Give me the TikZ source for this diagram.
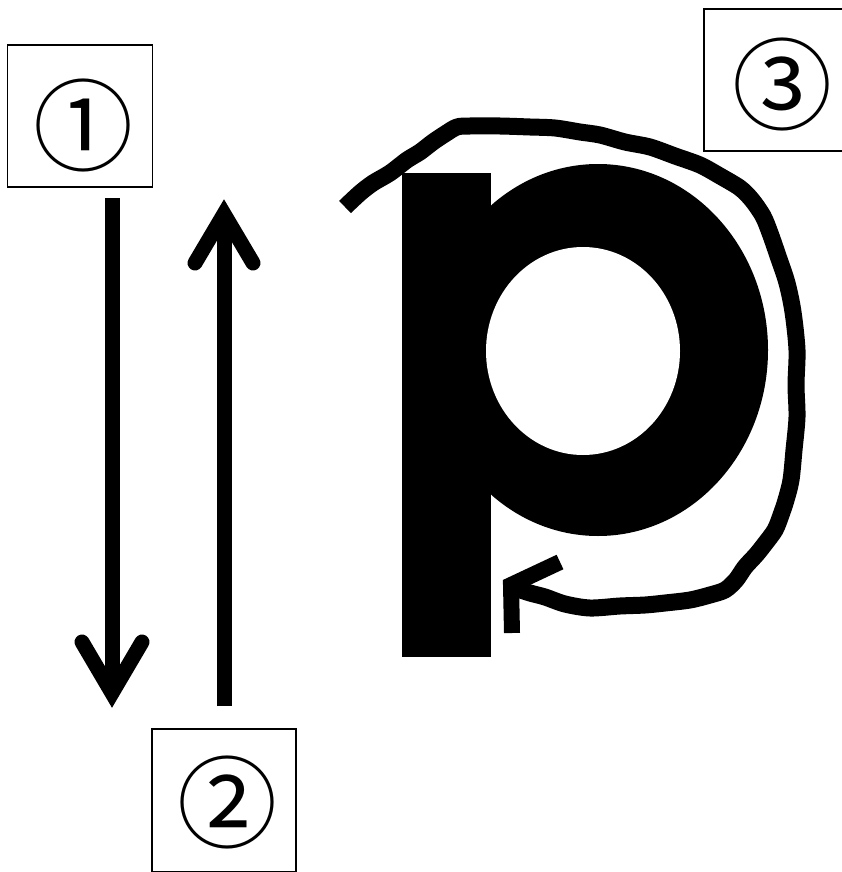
\documentclass[tikz,border=0pt]{standalone}
\usepackage{fontspec}
\newfontfamily\numfont{Noto Sans CJK JP}
\begin{document}
\begin{tikzpicture}[x=1pt,y=-1pt,
  num/.style={font=\numfont\fontsize{100}{100}\selectfont,inner sep=0pt},
  strokeline/.style={line width=15pt,line cap=butt},
  headline/.style={line width=15pt,line cap=round,line join=miter,miter limit=10}]
\useasboundingbox (0,0) rectangle (841,872);
% boxes
\node[draw,line width=1.5pt,minimum width=145pt,minimum height=142pt,inner sep=0pt] (b1) at (80,116) {};
\node[draw,line width=1.5pt,minimum width=144pt,minimum height=143pt,inner sep=0pt] (b2) at (224,800.5) {};
\node[draw,line width=1.5pt,minimum width=160pt,minimum height=142pt,inner sep=0pt] (b3) at (784,80) {};
\node[num] (n1) at (83,125) {①};
\node[num] (n2) at (227,802) {②};
\node[num] (n3) at (782,84) {③};
% letter p
\fill (402,173) rectangle (491,657);
\begin{scope}
\clip (491,0) rectangle (841,872);
\fill (598,350) ellipse [x radius=170, y radius=186];
\end{scope}
\fill[white] (583,351) ellipse [x radius=97, y radius=104];
% stroke 1
\coordinate (s1a) at (112,198);
\coordinate (s1b) at (112,693);
\draw[strokeline] (s1a) -- (s1b);
\draw[headline] (82,642) -- (s1b) -- (142,642);
% stroke 2
\coordinate (s2a) at (224,706);
\coordinate (s2b) at (224,214);
\draw[strokeline] (s2a) -- (s2b);
\draw[headline] (195,263) -- (s2b) -- (253,263);
% stroke 3
\draw[line width=17pt,line cap=butt,line join=round] plot[smooth,tension=0.5] coordinates {
(345,207) (360,193) (373,183) (390,173) (407,160) (420,152) (433,142) (445,134) (457,127)
(470,126) (500,126) (530,127) (555,128) (580,132) (600,135) (625,142) (650,147) (675,156)
(700,165) (720,176) (740,188) (752,200) (763,216) (770,233) (778,256) (787,283) (793,312)
(797,350) (796,385) (797,417) (794,450) (791,480) (786,500) (781,515) (775,530) (764,545)
(756,555) (745,567) (736,580) (725,590) (710,595) (690,600) (665,603) (645,605) (620,606)
(590,608) (565,604) (545,597) (530,593) (515,588)};
\draw[line width=16pt,line cap=butt,line join=miter] (560,562) -- (511,585) -- (512,633);
\end{tikzpicture}
\end{document}
